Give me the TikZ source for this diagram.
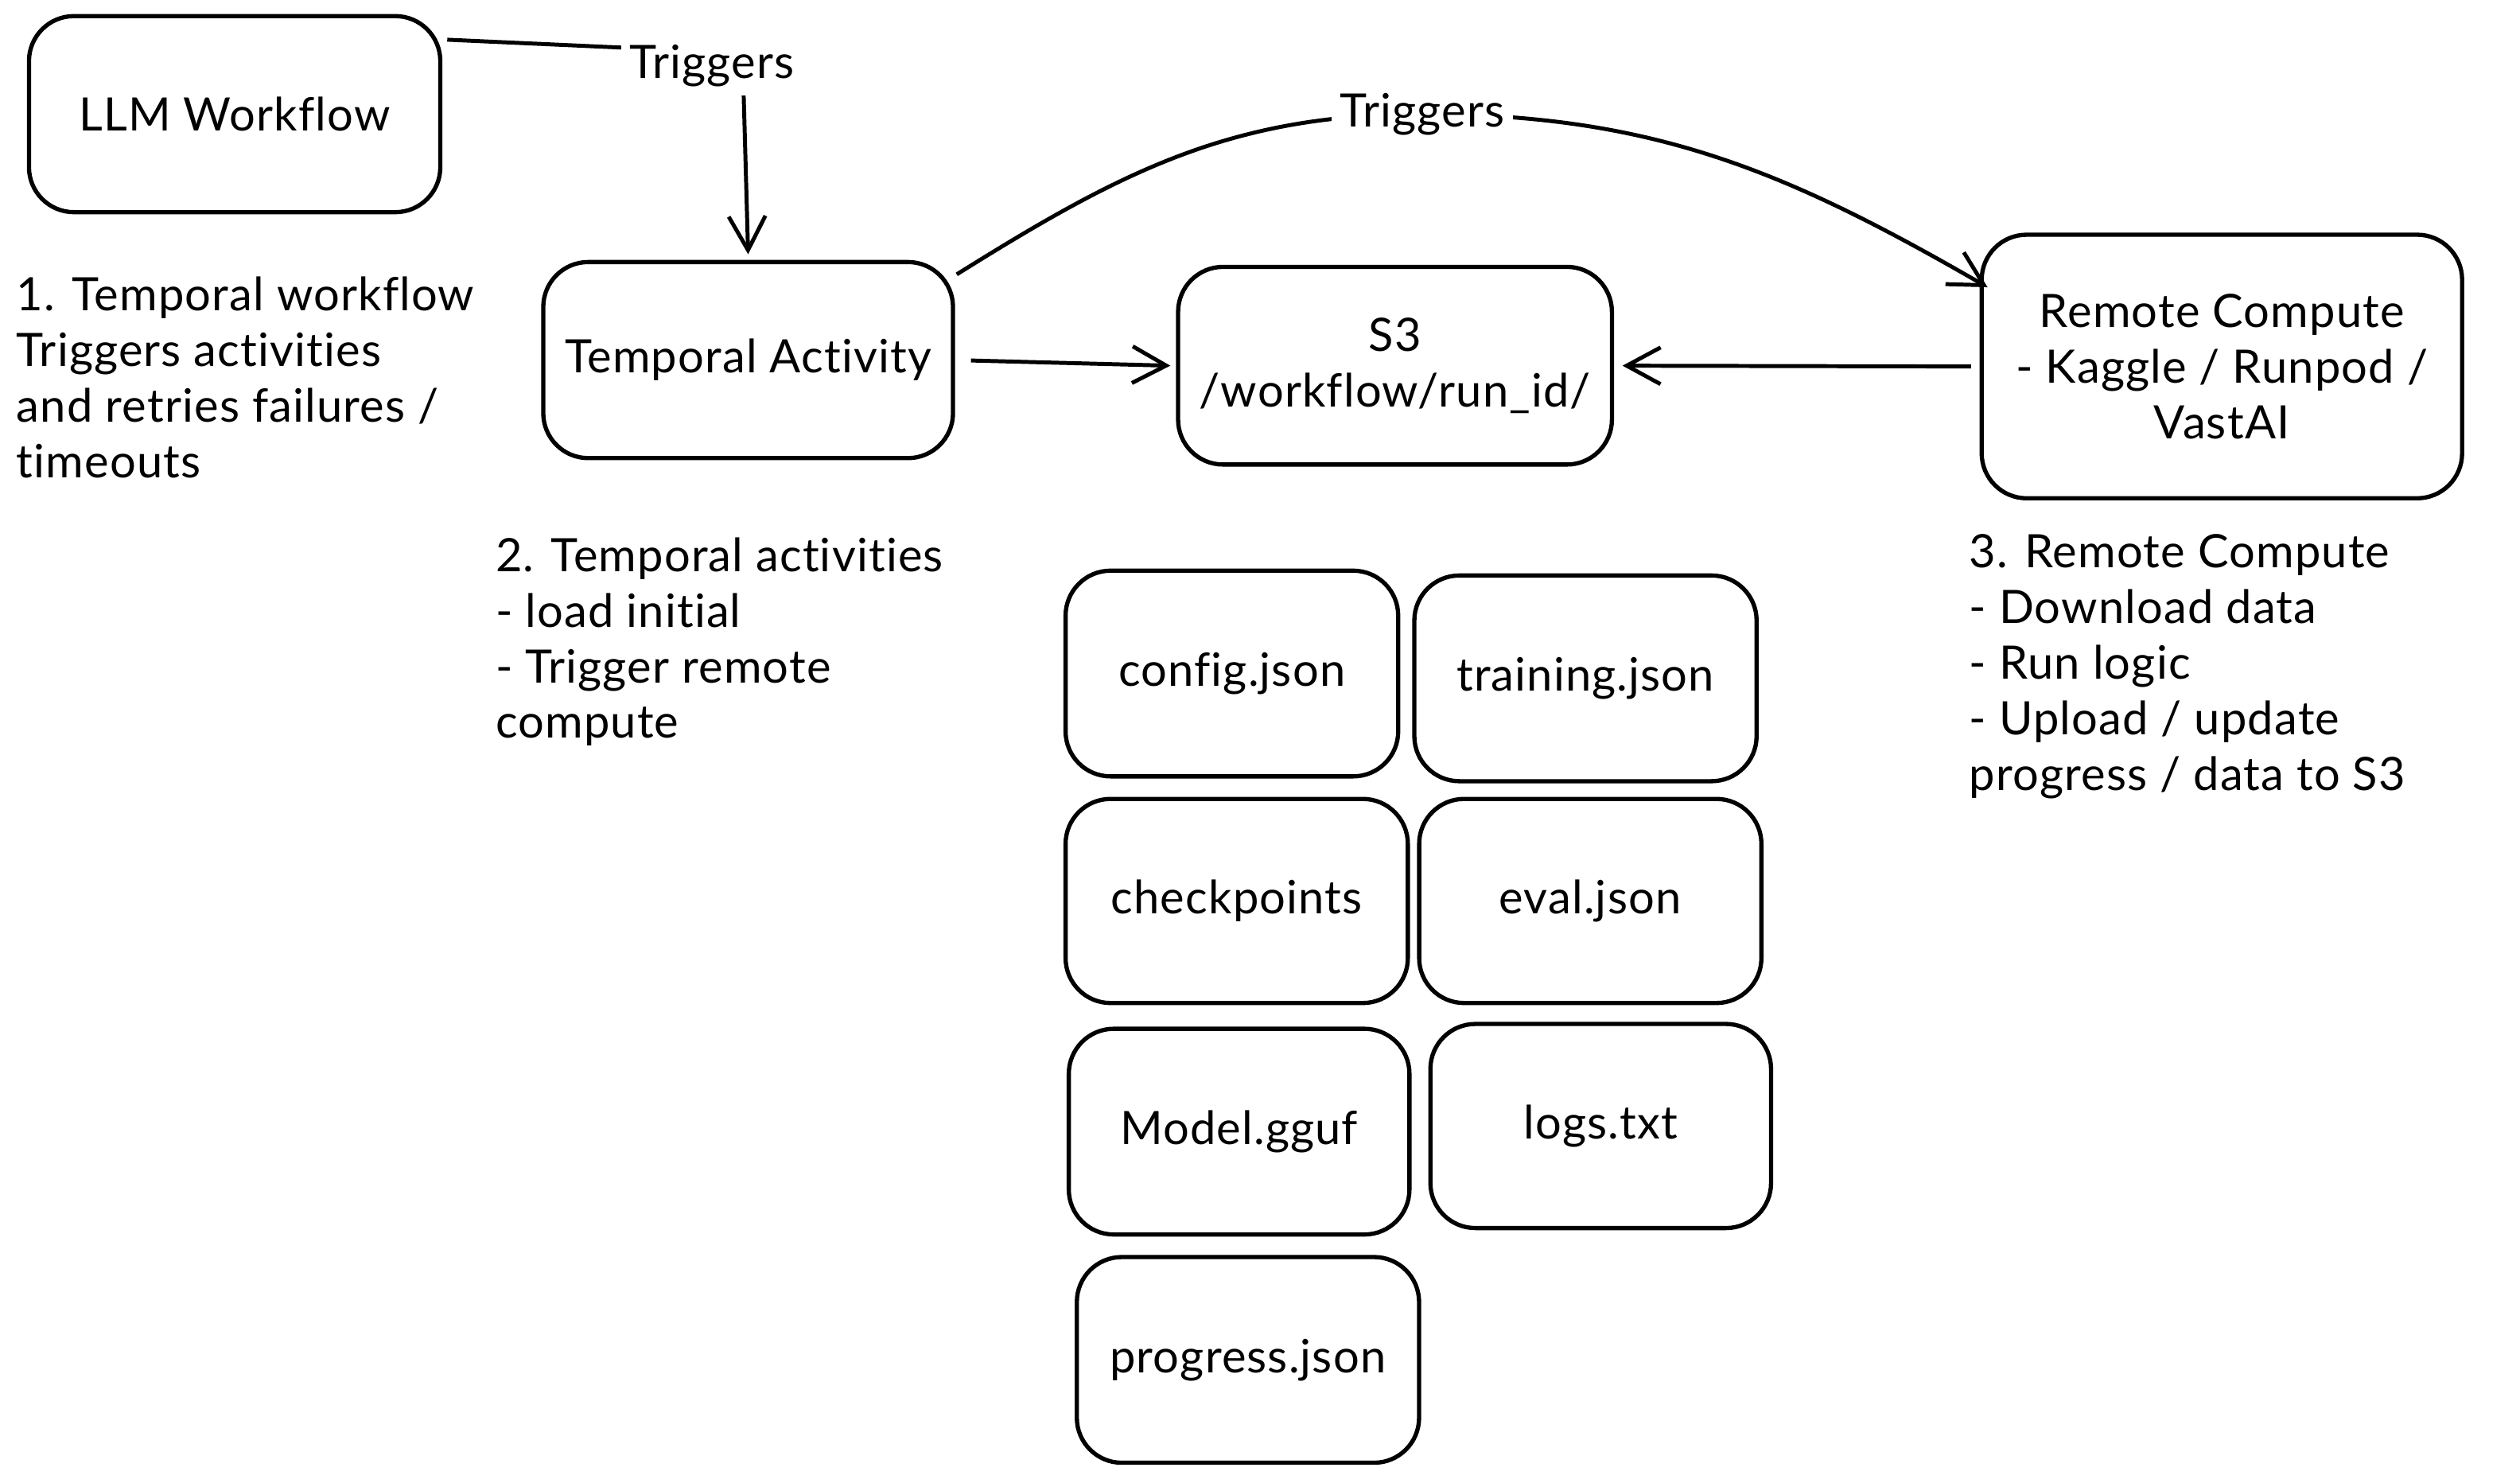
\documentclass[tikz,border=0pt]{standalone}
\usepackage{fontspec}
\setmainfont{Lato}[Ligatures={NoCommon},LetterSpace=2]
\usetikzlibrary{arrows.meta,calc}
\begin{document}
\begin{tikzpicture}[x=0.02cm,y=-0.02cm,
  every node/.style={font=\fontsize{16.3pt}{19.7pt}\selectfont},
  box/.style={draw,line width=1.5pt,rounded corners=0.56cm,inner sep=0pt,align=center},
  note/.style={anchor=north west,align=left,inner sep=0pt},
  lbl/.style={fill=white,inner sep=3pt},
  arr/.style={line width=1.4pt,-{Straight Barb[length=12pt,width=13pt,line width=1.4pt]}}]
\useasboundingbox (0,0) rectangle (1568,920);
\fill[white] (0,0) rectangle (1568,920);
% main boxes
\node[box,minimum width=5.12cm,minimum height=2.44cm] (llm) at (146,71) {LLM Workflow};
\node[box,minimum width=5.10cm,minimum height=2.44cm] (ta) at (465.5,224) {Temporal Activity};
\node[box,minimum width=5.40cm,minimum height=2.46cm] (s3) at (868,227.5) {S3\\/workflow/run\_id/};
\node[box,minimum width=5.98cm,minimum height=3.28cm] (rc) at (1382.5,228) {Remote Compute\\- Kaggle / Runpod /\\VastAI};
% file boxes
\node[box,minimum width=4.14cm,minimum height=2.56cm] (cfg) at (766.5,419) {config.json};
\node[box,minimum width=4.26cm,minimum height=2.56cm] (trn) at (986.5,422) {training.json};
\node[box,minimum width=4.26cm,minimum height=2.54cm] (ckp) at (769.5,560.5) {checkpoints};
\node[box,minimum width=4.26cm,minimum height=2.54cm] (evl) at (989.5,560.5) {eval.json};
\node[box,minimum width=4.24cm,minimum height=2.56cm] (mdl) at (771,704) {Model.gguf};
\node[box,minimum width=4.24cm,minimum height=2.54cm] (lgs) at (996,700.5) {logs.txt};
\node[box,minimum width=4.26cm,minimum height=2.56cm] (prg) at (776.5,846) {progress.json};
% notes
\node[note] (n1) at (10,172) {1. Temporal workflow\\Triggers activities\\and retries failures /\\timeouts};
\node[note] (n2) at (308,334) {2. Temporal activities\\- load initial\\- Trigger remote\\compute};
\node[note] (n3) at (1225,332) {3. Remote Compute\\- Download data\\- Run logic\\- Upload / update\\progress / data to S3};
% connectors
\coordinate (c1) at ($(llm.north east)+(3,16)$);
\coordinate (c2) at ($(ta.north east)+(1,9)$);
\coordinate (c3) at ($(rc.north west)+(5,34)$);
\draw[arr,rounded corners=0.4cm] (c1) -- (462,33) -- ([yshift=2pt]ta.north);
\node[lbl] (t1) at (443,41) {Triggers};
\draw[arr] (c2) to[out=32,in=180] (885,71) to[out=0,in=150] (c3);
\node[lbl] (t2) at (885,71) {Triggers};
\draw[arr,shorten <=4\pgflinewidth] (ta.east) -- ([xshift=-2pt]s3.west);
\draw[arr,shorten <=3pt] (rc.west) -- ([xshift=3pt]s3.east);
\end{tikzpicture}
\end{document}
